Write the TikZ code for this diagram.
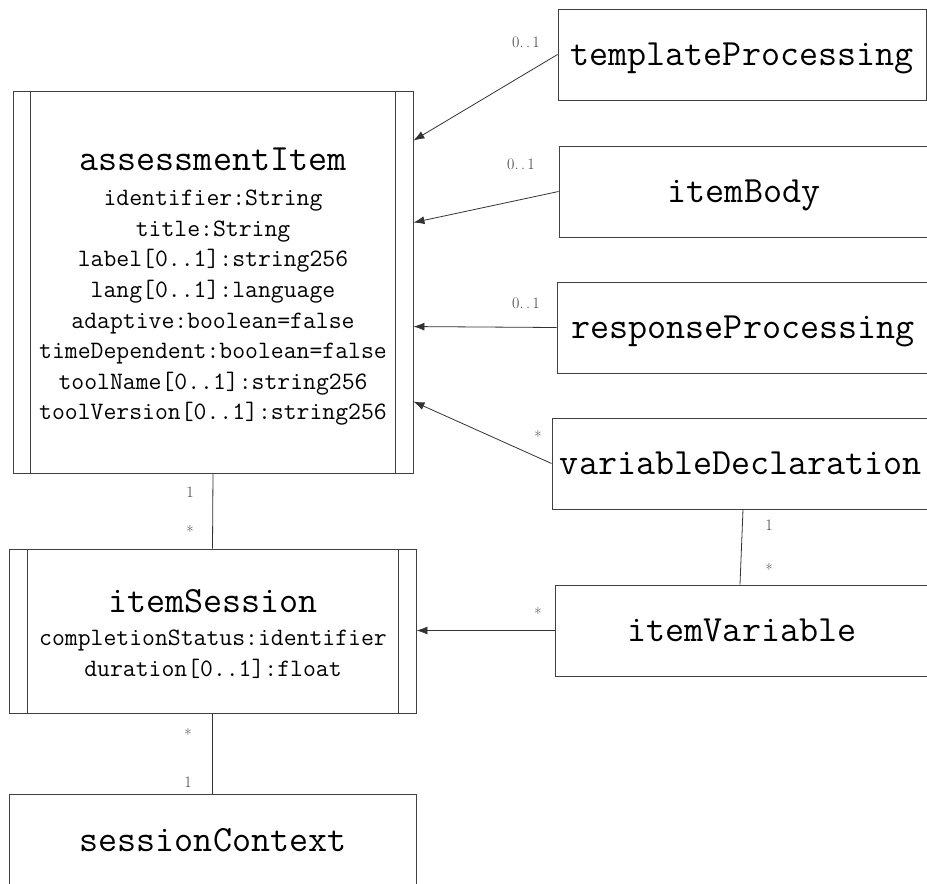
\documentclass[tikz,border=0pt]{standalone}
\usepackage{fontspec}
\usetikzlibrary{arrows.meta}

\tikzset{
  box/.style={draw=black!75, line width=0.9pt, inner sep=0pt},
  classname/.style={font={\ttfamily\fontsize{37}{40}\selectfont\addfontfeatures{FakeBold=0.6}},
    inner sep=0pt, text height=25pt, text depth=4pt},
  attrs/.style={font={\ttfamily\fontsize{25}{30.6}\selectfont\addfontfeatures{FakeBold=0.8}},
    align=center, inner sep=0pt},
  mult/.style={font={\rmfamily\fontsize{16}{17}\selectfont}, text=black!75, inner sep=0pt},
  assoc/.style={draw=black!80, line width=0.8pt},
  nav/.style={assoc, -{Latex[length=11pt,width=8pt]}},
}
\newcommand{\multdots}{0.\kern2.5pt.\kern2.5pt1}

\begin{document}
\begin{tikzpicture}[x=1pt,y=1pt]
\useasboundingbox (0,0) rectangle (927,-884);
\clip (0,0) rectangle (927,-884);

% ---- assessmentItem (active class: doubled side borders)
\node[box, minimum width=400pt, minimum height=382pt] (ai) at (213,-282) {};
\draw[box] ([xshift=18pt]ai.north west) -- ([xshift=18pt]ai.south west);
\draw[box] ([xshift=-18pt]ai.north east) -- ([xshift=-18pt]ai.south east);
\node[classname] (aiName) at (213,-159.5) {assessmentItem};
\node[attrs, anchor=north] (aiAttrs) at (213,-190) {identifier:String\\
  title:String\\
  label[0..1]:string256\\
  lang[0..1]:language\\
  adaptive:boolean=false\\
  timeDependent:boolean=false\\
  toolName[0..1]:string256\\
  toolVersion[0..1]:string256};

% ---- itemSession
\node[box, minimum width=407pt, minimum height=164pt] (is) at (212.5,-631) {};
\draw[box] ([xshift=19pt]is.north west) -- ([xshift=19pt]is.south west);
\draw[box] ([xshift=-18pt]is.north east) -- ([xshift=-18pt]is.south east);
\node[classname] (isName) at (213,-601.5) {itemSession};
\node[attrs, anchor=north] (isAttrs) at (213,-630) {completionStatus:identifier\\
  duration[0..1]:float};

% ---- sessionContext
\node[box, minimum width=407pt, minimum height=106pt] (sc) at (212.5,-847) {};
\node[classname] (scName) at (213,-840.5) {sessionContext};

% ---- classes on the right
\node[box, classname, minimum width=368pt, minimum height=91pt] (tp) at (742,-54.5) {templateProcessing};
\node[box, classname, minimum width=370pt, minimum height=91pt] (ib) at (744,-191.5) {itemBody};
\node[box, classname, minimum width=372pt, minimum height=91pt] (rp) at (743,-327.5) {responseProcessing};
\node[box, classname, minimum width=378pt, minimum height=91pt] (vd) at (741,-463.5) {variableDeclaration};
\node[box, classname, minimum width=373pt, minimum height=91pt] (iv) at (742,-630.5) {itemVariable};

% ---- navigable associations
\draw[nav] (tp.west) -- ([yshift=-50pt]ai.north east);
\draw[nav] (ib.west) -- ([yshift=-132pt]ai.north east);
\draw[nav] (rp.west) -- ([yshift=-236pt]ai.north east);
\draw[nav] (vd.west) -- ([yshift=-311pt]ai.north east);
\draw[nav] (iv.west) -- (is.east |- iv.west);

% ---- plain associations
\draw[assoc] (ai.south) -- (is.north);
\draw[assoc] (is.south) -- (sc.north);
\draw[assoc] ([xshift=2pt]vd.south) -- ([xshift=-2pt]iv.north);

% ---- multiplicities
\node[mult] (mTp) at (526,-42) {\multdots};
\node[mult] (mIb) at (521,-164) {\multdots};
\node[mult] (mRp) at (526,-303) {\multdots};
\node[mult] (mVd) at (538,-437) {*};
\node[mult] (mIv) at (538,-613) {*};
\node[mult] (mVdIv1) at (769,-525) {1};
\node[mult] (mVdIv2) at (769,-569) {*};
\node[mult] (mAiIs1) at (190,-492) {1};
\node[mult] (mAiIs2) at (190,-531) {*};
\node[mult] (mIsSc1) at (188,-734) {*};
\node[mult] (mIsSc2) at (188,-782) {1};
\end{tikzpicture}
\end{document}
